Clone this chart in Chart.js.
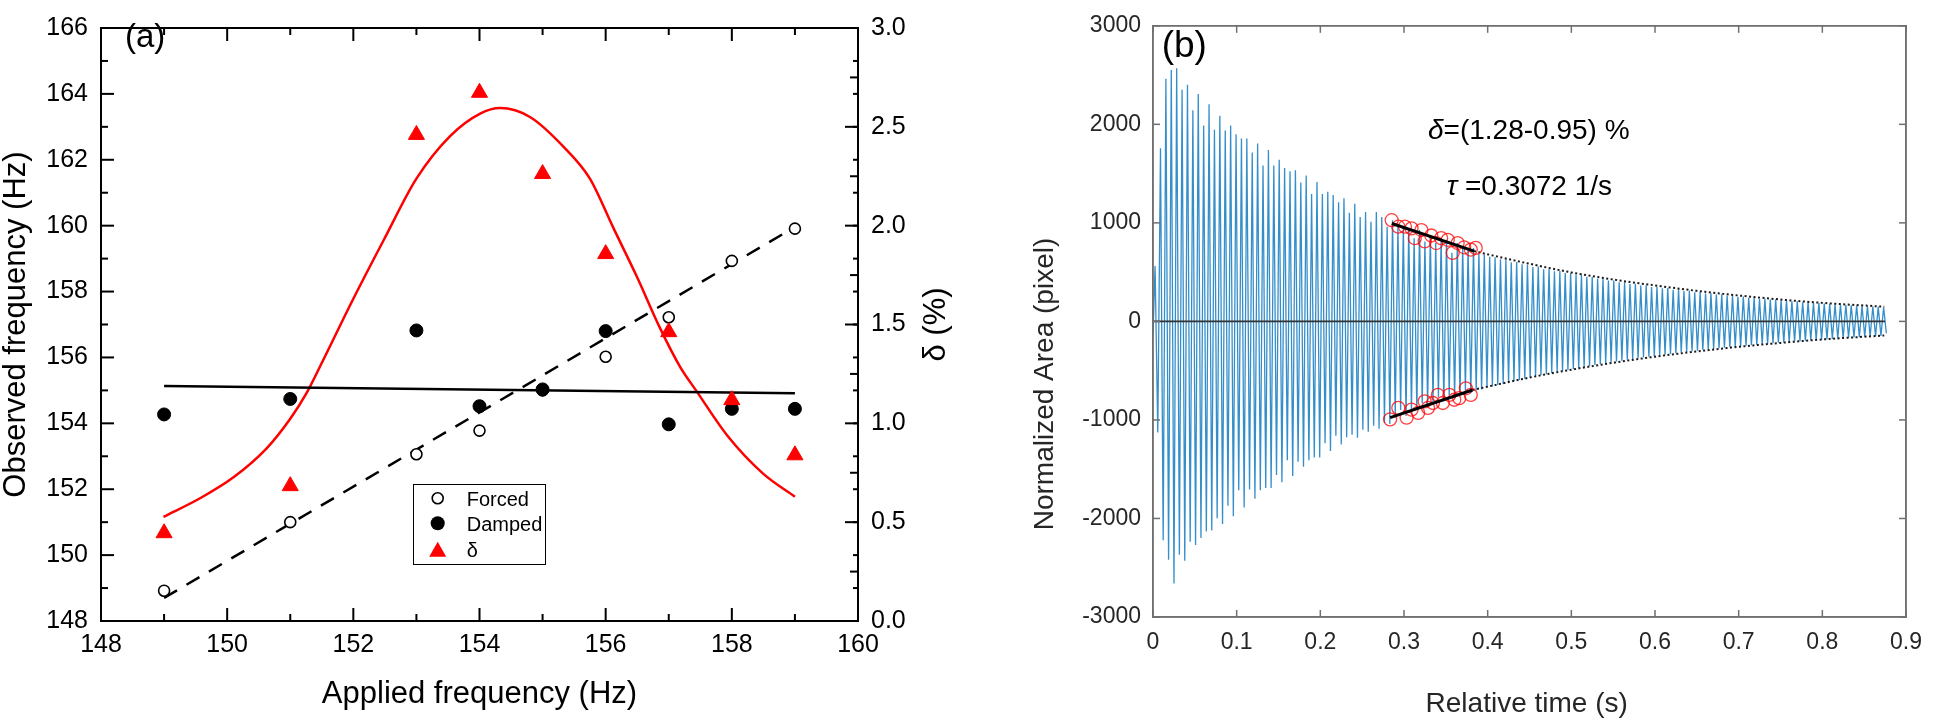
<!DOCTYPE html>
<html><head><meta charset="utf-8">
<script src="https://cdn.jsdelivr.net/npm/chart.js@4.4.1/dist/chart.umd.min.js"></script>
<style>
html,body{margin:0;padding:0;background:#fff;overflow:hidden}
#wrap{position:relative;width:1934px;height:719px}
canvas{position:absolute;top:0}
</style></head>
<body><div id="wrap">
<canvas id="ca" width="967" height="719" style="left:0;width:967px;height:719px"></canvas>
<canvas id="cb" width="967" height="719" style="left:967px;width:967px;height:719px"></canvas>
</div>
<script>
// ---------------- Panel (a) data ----------------
const appliedFreq = [149, 151, 153, 154, 155, 156, 157, 158, 159];
const forcedFreq  = [148.92, 151.0, 153.06, 153.78, 155.0, 156.02, 157.22, 158.93, 159.91];
const dampedFreq  = [154.27, 154.74, 156.82, 154.52, 155.03, 156.8, 153.97, 154.44, 154.44];
const deltaPct    = [0.445, 0.683, 2.46, 2.673, 2.262, 1.857, 1.462, 1.118, 0.839];
const deltaFitX = [148.99,149.57,150.10,150.63,151.0,151.26,151.47,152.0,152.48,153.0,153.53,154.01,154.33,154.8,155.33,155.75,156.12,156.49,156.86,157.18,157.44,157.94,158.5,159.0];
const deltaFitY = [0.527,0.621,0.727,0.875,1.023,1.154,1.286,1.63,1.926,2.238,2.452,2.567,2.595,2.55,2.40,2.238,1.99,1.745,1.483,1.286,1.163,0.933,0.744,0.629];
const dampedFitX = [149, 159];
const dampedFitY = [155.13, 154.91];
const forcedFitX = [149, 159];
const forcedFitY = [148.7, 159.96];
const xTicksA  = [148, 150, 152, 154, 156, 158, 160];
const xMinorA  = [149, 151, 153, 155, 157, 159];
const yTicksA  = [148, 150, 152, 154, 156, 158, 160, 162, 164, 166];
const yMinorA  = [149, 151, 153, 155, 157, 159, 161, 163, 165];
const y2TicksA = [0, 0.5, 1.0, 1.5, 2.0, 2.5, 3.0];
const y2MinorA = [0.25, 0.75, 1.25, 1.75, 2.25, 2.75];
const legendLabels = ['Forced', 'Damped', 'δ'];

// ---------------- Panel (b) data ----------------
const signalStartTime = 0;
const signalStartValue = -130;
const firstPeakTime = 0.0025;
const cyclePeriod = 0.00645;
const peakValues = [563,1756,2462,2551,2568,2352,2402,2144,2309,1988,2204,1945,2087,1938,1988,1899,1856,1856,1713,1806,
  1581,1740,1581,1640,1557,1524,1534,1409,1481,1292,1415,1292,1315,1282,1210,1249,
  1103,1193,1060,1110,1011,1110,1060,960,
  1027,961,961,944,845,927,812,872,795,845,828,696,795,752,729,746,
  690,680,655,650,630,628,600,602,580,578,552,556,530,533,510,512,490,492,470,472,452,450,432,433,415,414,396,398,380,382,
  365,366,348,352,335,338,322,323,308,310,296,297,284,285,272,274,262,262,250,252,240,240,230,231,221,221,212,212,203,204,
  195,195,187,187,180,179,173,171,166,164,160,157,154,151,148,144];
const troughValues = [-1127,-2220,-2419,-2661,-2369,-2429,-2237,-2270,-2197,-2131,-2121,-1998,-2055,-1872,-1978,-1713,-1889,-1706,-1799,-1713,
  -1690,-1690,-1558,-1633,-1409,-1568,-1425,-1474,-1409,-1382,-1382,-1236,-1315,-1160,-1249,-1176,
  -1150,-1180,-1100,-1120,-1060,-1090,-1030,-1040,
  -960,-900,-960,-900,-900,-830,-860,-820,-770,-810,-750,-780,-760,-700,-730,-700,
  -690,-672,-660,-645,-635,-618,-605,-595,-583,-570,-558,-546,-535,-524,-512,-502,-492,-482,-472,-462,
  -452,-443,-433,-424,-415,-407,-398,-390,-382,-374,-366,-358,-351,-344,-337,-330,-323,-316,-310,-303,
  -297,-291,-285,-279,-273,-268,-262,-257,-251,-246,-241,-236,-231,-226,-222,-217,-213,-208,-204,-200,
  -196,-192,-188,-184,-180,-177,-173,-170,-166,-163,-160,-156,-153,-150,-147,-120];
const upperCircleT = [0.2853,0.2932,0.3011,0.3090,0.3129,0.3208,0.3247,0.3326,0.3385,0.3444,0.3523,0.3582,0.3641,0.3719,0.3798,0.3857];
const upperCircleV = [1027,961,961,944,845,927,812,872,795,845,828,696,795,752,729,746];
const lowerCircleT = [0.2834,0.2932,0.3031,0.3090,0.3169,0.3247,0.3287,0.3346,0.3405,0.3464,0.3542,0.3601,0.3660,0.3739,0.3798];
const lowerCircleV = [-994,-878,-977,-895,-928,-812,-878,-828,-746,-828,-746,-795,-779,-679,-746];
const upperFitT = [0.2855, 0.3837];
const upperFitV = [994, 713];
const lowerFitT = [0.2834, 0.382];
const lowerFitV = [-977, -696];
const upperEnvT = [0.3837,0.45,0.5,0.55,0.6,0.65,0.7,0.75,0.8,0.874];
const upperEnvV = [713,585,497,425,365,310,263,222,188,149];
const lowerEnvT = [0.382,0.45,0.5,0.55,0.6,0.65,0.7,0.75,0.8,0.874];
const lowerEnvV = [-696,-570,-490,-420,-358,-305,-258,-218,-183,-143];
const zeroLineT = [0, 0.875];
const zeroLineV = [0, 0];
const xTicksB = [0,0.1,0.2,0.3,0.4,0.5,0.6,0.7,0.8,0.9];
const yTicksB = [-3000,-2000,-1000,0,1000,2000,3000];

// ---------------- helpers ----------------
const FONT = "'Liberation Sans', Arial, Helvetica, sans-serif";
Chart.defaults.font.family = FONT;
Chart.defaults.color = '#000';
const pts = (xs, ys) => xs.map((x, i) => ({x: x, y: ys[i]}));
const setTicks = arr => s => { s.ticks = arr.map(v => ({value: v})); };
function resetCtx(ctx) {
  ctx.setLineDash([]);
  ctx.globalAlpha = 1;
  ctx.globalCompositeOperation = 'source-over';
  ctx.shadowBlur = 0;
  ctx.shadowColor = 'rgba(0,0,0,0)';
}
function box(ctx, ca, w, color) {
  ctx.fillStyle = color;
  const L = ca.left, R = ca.right, T = ca.top, B = ca.bottom;
  ctx.fillRect(L - w / 2, T - w / 2, R - L + w, w);
  ctx.fillRect(L - w / 2, B - w / 2, R - L + w, w);
  ctx.fillRect(L - w / 2, T - w / 2, w, B - T + w);
  ctx.fillRect(R - w / 2, T - w / 2, w, B - T + w);
}
// a frame-only axis (no labels, zero size) used to draw the top / right box edges
const edgeAxis = (position, min, max, color, width) => ({
  type: 'linear', position: position, min: min, max: max, display: true,
  grid: { display: false, drawTicks: false },
  border: { display: true, color: color, width: width },
  ticks: { display: false },
  afterFit: s => { if (position === 'top' || position === 'bottom') s.height = 0; else s.width = 0; }
});

// ---------------- Panel (a) ----------------
const frameA = {
  id: 'frameA',
  afterDraw(chart) {
    const ctx = chart.ctx, ca = chart.chartArea;
    const x = chart.scales.x, y = chart.scales.y, y2 = chart.scales.y2;
    ctx.save();
    resetCtx(ctx);
    box(ctx, ca, 2, '#000');
    ctx.fillStyle = '#000';
    const vt = (px, L) => { ctx.fillRect(px - 1, ca.bottom - L, 2, L); ctx.fillRect(px - 1, ca.top, 2, L); };
    xTicksA.forEach(v => vt(x.getPixelForValue(v), 13));
    xMinorA.forEach(v => vt(x.getPixelForValue(v), 7));
    yTicksA.forEach(v => ctx.fillRect(ca.left, y.getPixelForValue(v) - 1, 13, 2));
    yMinorA.forEach(v => ctx.fillRect(ca.left, y.getPixelForValue(v) - 1, 7, 2));
    yTicksA.concat(yMinorA).forEach(v => ctx.fillRect(ca.right - 5, y.getPixelForValue(v) - 1, 5, 2));
    y2TicksA.forEach(v => ctx.fillRect(ca.right - 13, y2.getPixelForValue(v) - 1, 13, 2));
    y2MinorA.forEach(v => ctx.fillRect(ca.right - 8, y2.getPixelForValue(v) - 1, 8, 2));

    ctx.fillStyle = '#000';
    ctx.textBaseline = 'alphabetic';
    ctx.font = '31px ' + FONT;
    ctx.textAlign = 'center';
    ctx.fillText('Applied frequency (Hz)', (ca.left + ca.right) / 2, 703);
    ctx.save();
    ctx.translate(25, (ca.top + ca.bottom) / 2);
    ctx.rotate(-Math.PI / 2);
    ctx.fillText('Observed frequency (Hz)', 0, 0);
    ctx.restore();
    ctx.save();
    ctx.translate(945, (ca.top + ca.bottom) / 2);
    ctx.rotate(-Math.PI / 2);
    ctx.fillText('δ (%)', 0, 0);
    ctx.restore();
    ctx.textAlign = 'left';
    ctx.font = '33px ' + FONT;
    ctx.fillText('(a)', 125, 47);

    ctx.lineWidth = 1;
    ctx.strokeStyle = '#000';
    ctx.strokeRect(413.5, 484.5, 132, 80);
    ctx.beginPath(); ctx.arc(437.7, 498.3, 5.5, 0, Math.PI * 2);
    ctx.fillStyle = '#fff'; ctx.fill(); ctx.lineWidth = 1.6; ctx.stroke();
    ctx.beginPath(); ctx.arc(437.7, 523.3, 7, 0, Math.PI * 2);
    ctx.fillStyle = '#000'; ctx.fill();
    ctx.beginPath(); ctx.moveTo(437.7, 541.7); ctx.lineTo(446.2, 556.7); ctx.lineTo(429.2, 556.7); ctx.closePath();
    ctx.fillStyle = '#ff0000'; ctx.fill();
    ctx.fillStyle = '#000';
    ctx.font = '20px ' + FONT;
    ctx.fillText(legendLabels[0], 466.7, 505.5);
    ctx.fillText(legendLabels[1], 466.7, 530.5);
    ctx.fillText(legendLabels[2], 466.7, 556.5);
    ctx.restore();
  }
};

new Chart(document.getElementById('ca'), {
  type: 'scatter',
  data: {
    datasets: [
      { data: pts(deltaFitX, deltaFitY), yAxisID: 'y2', showLine: true, borderColor: '#ff0000', borderWidth: 2.5, pointRadius: 0, cubicInterpolationMode: 'monotone', fill: false, order: 6 },
      { data: pts(dampedFitX, dampedFitY), yAxisID: 'y', showLine: true, borderColor: '#000', borderWidth: 2.5, pointRadius: 0, order: 5 },
      { data: pts(forcedFitX, forcedFitY), yAxisID: 'y', showLine: true, borderColor: '#000', borderWidth: 2.5, borderDash: [15, 11], pointRadius: 0, order: 4 },
      { data: pts(appliedFreq, forcedFreq), yAxisID: 'y', pointStyle: 'circle', pointRadius: 5.5, pointBackgroundColor: '#fff', pointBorderColor: '#000', pointBorderWidth: 1.6, order: 3 },
      { data: pts(appliedFreq, dampedFreq), yAxisID: 'y', pointStyle: 'circle', pointRadius: 6.5, pointBackgroundColor: '#000', pointBorderColor: '#000', pointBorderWidth: 1, order: 2 },
      { data: pts(appliedFreq, deltaPct), yAxisID: 'y2', pointStyle: 'triangle', pointRadius: 9.3, pointBackgroundColor: '#ff0000', pointBorderColor: '#ff0000', pointBorderWidth: 1, order: 1 }
    ]
  },
  options: {
    responsive: false, animation: false, events: [],
    layout: { padding: { top: 12, left: 0, right: 0, bottom: 0 } },
    plugins: { legend: { display: false }, tooltip: { enabled: false } },
    scales: {
      x: { type: 'linear', position: 'bottom', min: 148, max: 160,
        grid: { display: false, drawTicks: false }, border: { display: true, color: '#000', width: 2 },
        afterBuildTicks: setTicks(xTicksA),
        ticks: { padding: 9, font: { size: 25 }, color: '#000', autoSkip: false, maxRotation: 0, callback: v => String(v) },
        afterFit: s => { s.height = 98; } },
      xTop: edgeAxis('top', 148, 160, '#000', 2),
      y: { type: 'linear', position: 'left', min: 148, max: 166,
        grid: { display: false, drawTicks: false }, border: { display: true, color: '#000', width: 2 },
        afterBuildTicks: setTicks(yTicksA),
        ticks: { padding: 13, font: { size: 25 }, color: '#000', autoSkip: false, callback: v => String(v) },
        afterFit: s => { s.width = 101; } },
      y2: { type: 'linear', position: 'right', min: 0, max: 3,
        grid: { display: false, drawTicks: false }, border: { display: true, color: '#000', width: 2 },
        afterBuildTicks: setTicks(y2TicksA),
        ticks: { padding: 13, font: { size: 25 }, color: '#000', autoSkip: false, callback: v => Number(v).toFixed(1) },
        afterFit: s => { s.width = 109; } }
    }
  },
  plugins: [frameA]
});

// ---------------- Panel (b) ----------------
const signalPts = [{x: signalStartTime, y: signalStartValue}];
peakValues.forEach((p, k) => {
  const t = firstPeakTime + k * cyclePeriod;
  signalPts.push({x: t, y: p});
  signalPts.push({x: t + cyclePeriod / 2, y: troughValues[k]});
});

const frameB = {
  id: 'frameB',
  afterDraw(chart) {
    const ctx = chart.ctx, ca = chart.chartArea;
    const x = chart.scales.x, y = chart.scales.y;
    ctx.save();
    resetCtx(ctx);
    box(ctx, ca, 1.5, '#707070');
    ctx.fillStyle = '#707070';
    xTicksB.forEach(v => { const p = x.getPixelForValue(v); ctx.fillRect(p - 0.75, ca.bottom - 7, 1.5, 7); ctx.fillRect(p - 0.75, ca.top, 1.5, 7); });
    yTicksB.forEach(v => { const p = y.getPixelForValue(v); ctx.fillRect(ca.left, p - 0.75, 7, 1.5); ctx.fillRect(ca.right - 7, p - 0.75, 7, 1.5); });

    ctx.fillStyle = '#262626';
    ctx.font = '28px ' + FONT;
    ctx.textAlign = 'center';
    ctx.textBaseline = 'alphabetic';
    ctx.fillText('Relative time (s)', 559.7, 712);
    ctx.save();
    ctx.translate(86, 384);
    ctx.rotate(-Math.PI / 2);
    ctx.fillText('Normalized Area (pixel)', 0, 0);
    ctx.restore();

    ctx.fillStyle = '#000';
    ctx.textAlign = 'left';
    ctx.font = '37px ' + FONT;
    ctx.fillText('(b)', 194.7, 57);

    ctx.font = 'italic 28px ' + FONT;
    ctx.fillText('δ', 461, 138.5);
    let w = ctx.measureText('δ').width;
    ctx.font = '28px ' + FONT;
    ctx.fillText('=(1.28-0.95) %', 461 + w, 138.5);
    ctx.font = 'italic 28px ' + FONT;
    ctx.fillText('τ', 479.7, 195);
    w = ctx.measureText('τ').width;
    ctx.font = '28px ' + FONT;
    ctx.fillText(' =0.3072 1/s', 479.7 + w, 195);
    ctx.restore();
  }
};

new Chart(document.getElementById('cb'), {
  type: 'scatter',
  data: {
    datasets: [
      { data: signalPts, showLine: true, borderColor: 'rgba(0,114,189,0.8)', borderWidth: 1.3, pointRadius: 0, tension: 0, order: 7 },
      { data: pts(zeroLineT, zeroLineV), showLine: true, borderColor: '#333', borderWidth: 1.6, pointRadius: 0, order: 6 },
      { data: pts(upperEnvT, upperEnvV), showLine: true, borderColor: '#1a1a1a', borderWidth: 2, borderDash: [2, 2.5], pointRadius: 0, cubicInterpolationMode: 'monotone', order: 5 },
      { data: pts(lowerEnvT, lowerEnvV), showLine: true, borderColor: '#1a1a1a', borderWidth: 2, borderDash: [2, 2.5], pointRadius: 0, cubicInterpolationMode: 'monotone', order: 5 },
      { data: pts(upperCircleT, upperCircleV), pointStyle: 'circle', pointRadius: 6.5, pointBackgroundColor: 'rgba(0,0,0,0)', pointBorderColor: 'rgba(255,0,0,0.75)', pointBorderWidth: 1.3, order: 4 },
      { data: pts(lowerCircleT, lowerCircleV), pointStyle: 'circle', pointRadius: 6.5, pointBackgroundColor: 'rgba(0,0,0,0)', pointBorderColor: 'rgba(255,0,0,0.75)', pointBorderWidth: 1.3, order: 4 },
      { data: pts(upperFitT, upperFitV), showLine: true, borderColor: '#000', borderWidth: 3, pointRadius: 0, order: 3 },
      { data: pts(lowerFitT, lowerFitV), showLine: true, borderColor: '#000', borderWidth: 3, pointRadius: 0, order: 3 }
    ]
  },
  options: {
    responsive: false, animation: false, events: [],
    layout: { padding: { top: 13, left: 0, right: 19, bottom: 0 } },
    plugins: { legend: { display: false }, tooltip: { enabled: false } },
    scales: {
      x: { type: 'linear', position: 'bottom', min: 0, max: 0.9,
        grid: { display: false, drawTicks: false }, border: { display: true, color: '#707070', width: 1.5 },
        afterBuildTicks: setTicks(xTicksB),
        ticks: { padding: 12, font: { size: 23 }, color: '#262626', autoSkip: false, maxRotation: 0, callback: v => String(Math.round(v * 10) / 10) },
        afterFit: s => { s.height = 102; } },
      xTop: edgeAxis('top', 0, 0.9, '#707070', 1.5),
      y: { type: 'linear', position: 'left', min: -3000, max: 3000,
        grid: { display: false, drawTicks: false }, border: { display: true, color: '#707070', width: 1.5 },
        afterBuildTicks: setTicks(yTicksB),
        ticks: { padding: 12, font: { size: 23 }, color: '#262626', autoSkip: false, callback: v => String(v) },
        afterFit: s => { s.width = 186; } },
      yRight: edgeAxis('right', -3000, 3000, '#707070', 1.5)
    }
  },
  plugins: [frameB]
});
</script>
</body></html>
